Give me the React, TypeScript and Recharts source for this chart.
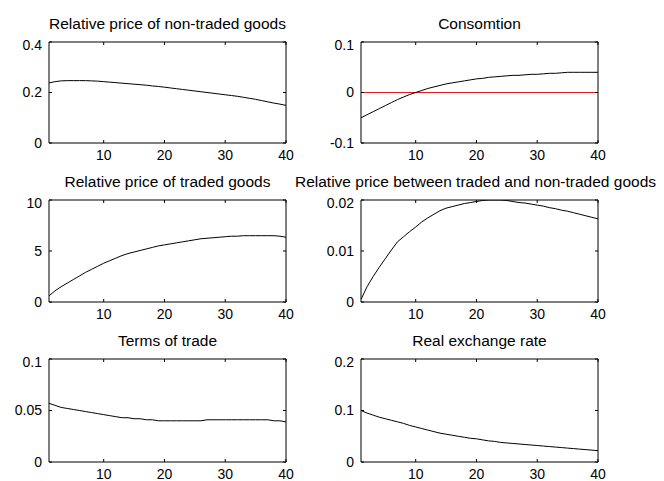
import { LineChart, Line, XAxis, YAxis, ReferenceLine } from "recharts"

// periods 1..40
const periods = [
  1, 2, 3, 4, 5, 6, 7, 8, 9, 10, 11, 12, 13, 14, 15, 16, 17, 18, 19, 20,
  21, 22, 23, 24, 25, 26, 27, 28, 29, 30, 31, 32, 33, 34, 35, 36, 37, 38, 39, 40,
]
const xTicks = [10, 20, 30, 40]

const nonTradedPrice = [
  0.238, 0.243, 0.246, 0.247, 0.247, 0.247, 0.247, 0.246, 0.245, 0.243,
  0.241, 0.239, 0.237, 0.235, 0.233, 0.231, 0.229, 0.226, 0.224, 0.221,
  0.218, 0.215, 0.212, 0.209, 0.206, 0.203, 0.2, 0.197, 0.194, 0.191,
  0.188, 0.185, 0.181, 0.177, 0.173, 0.168, 0.163, 0.158, 0.154, 0.149,
]
const consumption = [
  -0.05, -0.044, -0.038, -0.032, -0.026, -0.02, -0.014, -0.009, -0.004, 0.0,
  0.004, 0.008, 0.011, 0.014, 0.017, 0.019, 0.021, 0.023, 0.025, 0.027,
  0.028, 0.03, 0.031, 0.032, 0.033, 0.034, 0.034, 0.035, 0.036, 0.036,
  0.037, 0.038, 0.038, 0.039, 0.04, 0.04, 0.04, 0.04, 0.04, 0.04,
]
const tradedPrice = [
  0.6, 1.1, 1.5, 1.85, 2.2, 2.55, 2.9, 3.2, 3.5, 3.8,
  4.05, 4.3, 4.55, 4.75, 4.9, 5.05, 5.2, 5.35, 5.5, 5.6,
  5.7, 5.8, 5.9, 6.0, 6.1, 6.2, 6.25, 6.3, 6.35, 6.4,
  6.45, 6.45, 6.5, 6.5, 6.5, 6.5, 6.5, 6.5, 6.45, 6.35,
]
const relativePrice = [
  0.0005, 0.003, 0.005, 0.0068, 0.0085, 0.0102, 0.0118, 0.0128, 0.0138, 0.0147,
  0.0157, 0.0165, 0.0172, 0.0179, 0.0184, 0.0187, 0.019, 0.0193, 0.0195, 0.0197,
  0.0199, 0.02, 0.02, 0.02, 0.0199, 0.0197, 0.0195, 0.0194, 0.0192, 0.019,
  0.0188, 0.0185, 0.0183, 0.018, 0.0178, 0.0175, 0.0172, 0.0169, 0.0166, 0.0163,
]
const termsOfTrade = [
  0.057, 0.055, 0.053, 0.052, 0.051, 0.05, 0.049, 0.048, 0.047, 0.046,
  0.045, 0.044, 0.043, 0.043, 0.042, 0.042, 0.041, 0.041, 0.04, 0.04,
  0.04, 0.04, 0.04, 0.04, 0.04, 0.04, 0.041, 0.041, 0.041, 0.041,
  0.041, 0.041, 0.041, 0.041, 0.041, 0.041, 0.041, 0.04, 0.04, 0.039,
]
const realExchangeRate = [
  0.1, 0.095, 0.091, 0.087, 0.084, 0.081, 0.078, 0.075, 0.071, 0.068,
  0.065, 0.062, 0.059, 0.056, 0.054, 0.052, 0.05, 0.048, 0.046, 0.045,
  0.043, 0.041, 0.04, 0.038, 0.037, 0.036, 0.035, 0.034, 0.033, 0.032,
  0.031, 0.03, 0.029, 0.028, 0.027, 0.026, 0.025, 0.024, 0.023, 0.022,
]

const font = "'Liberation Sans', Arial, Helvetica, sans-serif"
const tickStyle = { fontSize: 14, fill: "#000", fontFamily: font }

// plot box layout (pixels in the figure)
const colLeft = [49, 361]
const rowTop = [42, 200, 359]
const rowHeight = [101, 102, 103]
const plotW = 237

type PanelProps = {
  title: string
  values: number[]
  domain: [number, number]
  ticks: number[]
  col: number
  row: number
  zero?: boolean
}

const panels: PanelProps[] = [
  { title: "Relative price of non-traded goods", values: nonTradedPrice, domain: [0, 0.4], ticks: [0, 0.2, 0.4], col: 0, row: 0 },
  { title: "Consomtion", values: consumption, domain: [-0.1, 0.1], ticks: [-0.1, 0, 0.1], col: 1, row: 0, zero: true },
  { title: "Relative price of traded goods", values: tradedPrice, domain: [0, 10], ticks: [0, 5, 10], col: 0, row: 1 },
  { title: "Relative price between traded and non-traded goods", values: relativePrice, domain: [0, 0.02], ticks: [0, 0.01, 0.02], col: 1, row: 1 },
  { title: "Terms of trade", values: termsOfTrade, domain: [0, 0.1], ticks: [0, 0.05, 0.1], col: 0, row: 2 },
  { title: "Real exchange rate", values: realExchangeRate, domain: [0, 0.2], ticks: [0, 0.1, 0.2], col: 1, row: 2 },
]

const noLabel = () => <g />

function Panel({ values, domain, ticks, col, row, zero }: PanelProps) {
  const data = periods.map((t, i) => ({ t, v: values[i] }))
  const h = rowHeight[row]
  return (
    <div style={{ position: "absolute", left: colLeft[col] - 50, top: rowTop[row] - 5 }}>
      <LineChart width={50 + plotW + 10} height={5 + h + 30} data={data} margin={{ top: 0, right: 0, bottom: 0, left: 0 }}>
        <XAxis
          dataKey="t"
          type="number"
          domain={[1, 40]}
          ticks={xTicks}
          allowDataOverflow
          height={30}
          tickSize={-3}
          tickMargin={10}
          tick={tickStyle}
          stroke="#000"
          tickLine={{ stroke: "#000" }}
          axisLine={{ stroke: "#000" }}
        />
        <XAxis
          xAxisId="top"
          orientation="top"
          dataKey="t"
          type="number"
          domain={[1, 40]}
          ticks={xTicks}
          allowDataOverflow
          height={5}
          tickSize={-3}
          tick={noLabel}
          stroke="#000"
        />
        <YAxis
          type="number"
          domain={domain}
          ticks={ticks}
          allowDataOverflow
          width={50}
          tickSize={-3}
          tickMargin={10}
          tick={tickStyle}
          stroke="#000"
        />
        <YAxis
          yAxisId="right"
          orientation="right"
          type="number"
          domain={domain}
          ticks={ticks}
          allowDataOverflow
          width={10}
          tickSize={-3}
          tick={noLabel}
          stroke="#000"
        />
        {zero && <ReferenceLine y={0} stroke="#e02020" strokeWidth={1} />}
        <Line type="linear" dataKey="v" stroke="#000" strokeWidth={1} dot={false} isAnimationActive={false} />
      </LineChart>
    </div>
  )
}

export default function App() {
  return (
    <div style={{ position: "fixed", left: 0, top: 0, width: 664, height: 481, background: "#fff", overflow: "hidden" }}>
      {panels.map((p) => (
        <Panel key={p.title} {...p} />
      ))}
      <svg width={664} height={481} style={{ position: "absolute", left: 0, top: 0, pointerEvents: "none" }}>
        {panels.map((p) => (
          <text
            key={p.title}
            x={colLeft[p.col] + plotW / 2 - (p.col === 1 && p.row === 1 ? 4 : 0)}
            y={rowTop[p.row] - 13}
            textAnchor="middle"
            fontSize={15.5}
            fontFamily={font}
            fill="#000"
          >
            {p.title}
          </text>
        ))}
      </svg>
    </div>
  )
}
